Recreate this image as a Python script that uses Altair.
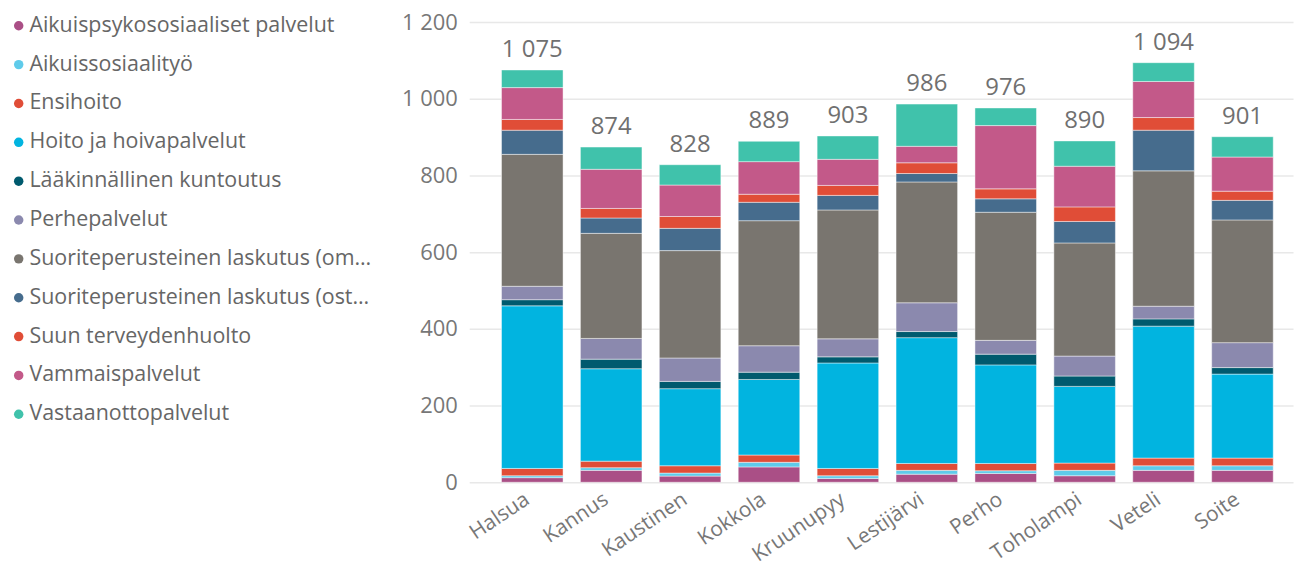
import altair as alt
import pandas as pd

kunnat = ["Halsua", "Kannus", "Kaustinen", "Kokkola", "Kruunupyy",
          "Lestijärvi", "Perho", "Toholampi", "Veteli", "Soite"]

palvelut = [
    "Aikuispsykososiaaliset palvelut",
    "Aikuissosiaalityö",
    "Ensihoito",
    "Hoito ja hoivapalvelut",
    "Lääkinnällinen kuntoutus",
    "Perhepalvelut",
    "Suoriteperusteinen laskutus (oma tuotanto)",
    "Suoriteperusteinen laskutus (ostopalvelut)",
    "Suun terveydenhuolto",
    "Vammaispalvelut",
    "Vastaanottopalvelut",
]

varit = ["#AA4F86", "#5FCBEA", "#E04D37", "#01B4E0", "#005A6E", "#8B89AE",
         "#79756F", "#466C8D", "#E04D37", "#C35989", "#40C2AB"]

aikuispsyk = [12, 31, 16, 40, 10, 21, 23, 17, 31, 31]
aikuissos = [5, 7, 8, 12, 7, 10, 7, 14, 12, 12]
ensihoito = [19, 17, 19, 19, 19, 18, 19, 19, 20, 20]
hoito = [424, 241, 201, 197, 275, 328, 257, 200, 344, 219]
laak = [16, 25, 19, 19, 16, 16, 28, 27, 19, 17]
perhe = [35, 54, 61, 69, 47, 75, 36, 52, 33, 65]
suor_oma = [344, 274, 280, 326, 336, 315, 334, 295, 353, 320]
suor_ost = [63, 40, 58, 48, 38, 22, 35, 56, 106, 51]
suun = [28, 25, 31, 21, 26, 28, 26, 38, 33, 24]
vamm = [83, 102, 82, 85, 68, 43, 165, 106, 94, 89]
vast = [46, 58, 53, 53, 61, 110, 46, 66, 49, 53]

sarjat = [aikuispsyk, aikuissos, ensihoito, hoito, laak, perhe,
          suor_oma, suor_ost, suun, vamm, vast]

rows = []
for i, (p, vals) in enumerate(zip(palvelut, sarjat)):
    for k, v in zip(kunnat, vals):
        rows.append({"kunta": k, "palvelu": p, "idx": i, "arvo": v})
df = pd.DataFrame(rows)

FONT = "Open Sans"

x_enc = alt.X("kunta:N", sort=kunnat, title=None,
              scale=alt.Scale(paddingInner=0.22, paddingOuter=0.33, align=0.62),
              axis=alt.Axis(labelAngle=326, labelFontSize=21, labelColor="#777777",
                            labelFont=FONT, domain=False, ticks=False, labelPadding=6,
                            labelOffset=-11))

bars = alt.Chart(df).mark_bar(stroke="white", strokeWidth=1, strokeOpacity=0.45).encode(
    x=x_enc,
    y=alt.Y("arvo:Q", stack="zero", title=None,
            scale=alt.Scale(domain=[0, 1200], nice=False),
            axis=alt.Axis(values=[0, 200, 400, 600, 800, 1000, 1200],
                          labelExpr="replace(format(datum.value, ','), ',', ' ')",
                          labelFontSize=22, labelColor="#777777", labelFont=FONT,
                          domain=False, ticks=False, labelPadding=12,
                          gridColor="#E8E8E8", gridWidth=1.5)),
    color=alt.Color("palvelu:N", title=None,
                    scale=alt.Scale(domain=palvelut, range=varit),
                    legend=alt.Legend(orient="none", legendX=-463, legendY=-7,
                                      symbolType="circle", symbolSize=90,
                                      symbolStrokeWidth=0, labelFontSize=21.5,
                                      labelFont=FONT, labelColor="#666666",
                                      labelLimit=352, rowPadding=16.0,
                                      labelOffset=0, padding=0)),
    order=alt.Order("idx:Q", sort="ascending"),
)

labels = alt.Chart(df).transform_aggregate(
    total="sum(arvo)", groupby=["kunta"]
).transform_calculate(
    teksti="replace(format(datum.total, ','), ',', ' ')"
).mark_text(baseline="bottom", dy=-8, fontSize=24, font=FONT, color="#707070").encode(
    x=alt.X("kunta:N", sort=kunnat),
    y=alt.Y("total:Q"),
    text="teksti:N",
)

chart = alt.layer(bars, labels).properties(
    width=827, height=462,
    padding={"left": 0, "top": 2, "right": 5, "bottom": 5},
).configure_view(stroke=None)

chart.save("out.html", embed_options={"renderer": "svg", "actions": False})
